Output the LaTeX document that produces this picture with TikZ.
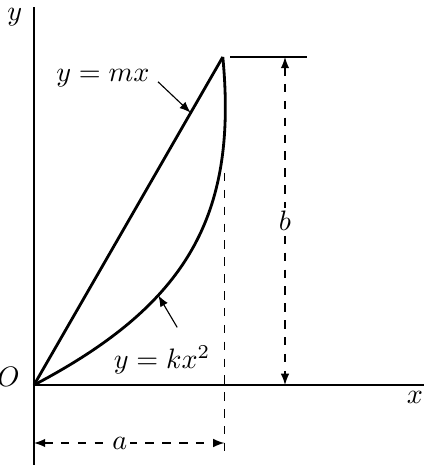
\documentclass[tikz,border=0pt]{standalone}
\usepackage{tikz}
\usetikzlibrary{arrows,calc,positioning}
\usepackage{amsmath}

\begin{document}
\begin{tikzpicture}[curve/.style={line width=1pt},axis/.style={line width=0.6pt},dimline/.style={thin,dashed,latex-latex},ext/.style={thin}]
\useasboundingbox (-0.425,-1.0) rectangle (4.8625,4.8125);
\coordinate (O) at (0,0);
\coordinate (T) at (2.36,4.1);
% axes
\draw[axis] (0,-1.0) coordinate(ybot) -- (0,4.72) coordinate(ytop);
\draw[axis] (O) -- (4.9,0) coordinate(xend);
\node (ylab) at (-0.24,4.6) {$y$};
\node (xlab) at (4.76,-0.16) {$x$};
\node[left=1pt] (olab) at (-0.02,0.1) {$O$};
% the two curves
\draw[curve] (O) -- node[pos=0.83,coordinate](M){} (T);
\draw[curve] (O) .. controls (1.9,1.0) and (2.55,2.1) .. node[pos=0.35,coordinate](K){} (T);
\node (lblm) at (0.86,3.84) {$y = mx$};
\node (lblk) at (1.6,0.31) {$y = kx^2$};
\coordinate (mstart) at (1.55,3.79);
\coordinate (kstart) at (1.79,0.72);
\draw[thin,-latex] (mstart) -- (M);
\draw[thin,-latex] (kstart) -- (K);
% extension lines
\draw[ext] (2.45,4.1) coordinate(etl) -- (3.41,4.1) coordinate(etr);
\draw[ext,dashed] (2.38,2.65) coordinate(eat) -- (2.38,-0.85) coordinate(eab);
% dimensions
\draw[dimline] (3.1375,4.1) coordinate(btop) -- node[fill=white,inner sep=1pt]{$b$} (3.1375,0) coordinate(bbot);
\draw[dimline] (0,-0.725) coordinate(al) -- node[pos=0.45,fill=white,inner sep=1pt]{$a$} (2.38,-0.725) coordinate(ar);
\end{tikzpicture}
\end{document}
